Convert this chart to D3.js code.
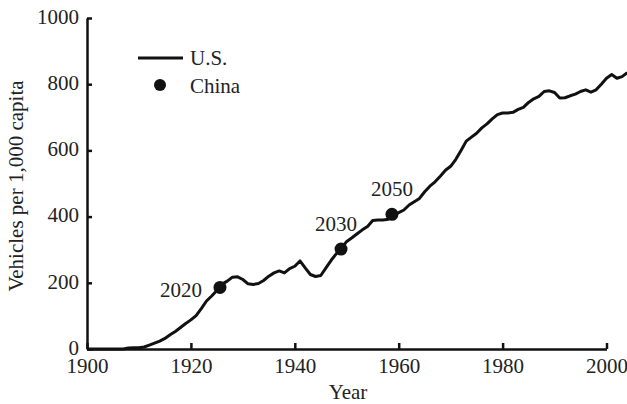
<!DOCTYPE html>
<html>
<head>
<meta charset="utf-8">
<script src="https://cdn.jsdelivr.net/npm/d3@7"></script>
<style>
  html, body { margin: 0; padding: 0; background: #fff; }
  svg { display: block; }
  text { font-family: "Liberation Serif", "Times New Roman", serif; fill: #222; }
</style>
</head>
<body>
<div id="chart"></div>
<script>
// ---- data ----
const usYears = d3.range(1900, 2005);
const usValues = [
  0, 0, 0, 0, 0, 0, 0, 0, 3, 4,            // 1900-1909
  4, 6, 12, 18, 24, 32, 43, 53, 65, 77,    // 1910-1919
  88, 101, 122, 145, 160, 177, 196, 205, 217, 218, // 1920-1929
  210, 197, 195, 198, 207, 220, 230, 236, 230, 243, // 1930-1939
  250, 266, 245, 225, 219, 222, 245, 268, 288, 305, // 1940-1949
  325, 336, 348, 360, 370, 388, 390, 390, 392, 406, // 1950-1959
  412, 420, 435, 445, 455, 475, 492, 505, 522, 540, // 1960-1969
  552, 573, 600, 628, 640, 652, 668, 680, 695, 708, // 1970-1979
  713, 713, 715, 724, 730, 745, 756, 763, 778, 780, // 1980-1989
  775, 758, 759, 765, 770, 778, 783, 776, 783, 800, // 1990-1999
  818, 829, 818, 823, 835                           // 2000-2004
];
const chinaX = [1925.6, 1948.9, 1958.7];
const chinaValues = [186, 302, 407];
const chinaLabels = ["2020", "2030", "2050"];
const xTicks = [1900, 1920, 1940, 1960, 1980, 2000];
const yTicks = [0, 200, 400, 600, 800, 1000];

// ---- layout ----
const W = 627, H = 404;
const svg = d3.select("#chart").append("svg").attr("width", W).attr("height", H);

const x = d3.scaleLinear().domain([1900, 2000]).range([87, 606.5]);
const y = d3.scaleLinear().domain([0, 1000]).range([349, 18]);

const FS = 21;

// US line
const line = d3.line().x((d, i) => x(usYears[i])).y(d => y(d)).curve(d3.curveLinear);
svg.append("path")
  .datum(usValues)
  .attr("d", line)
  .attr("fill", "none")
  .attr("stroke", "#111")
  .attr("stroke-width", 3)
  .attr("stroke-linejoin", "round");

// axes
const xAxis = d3.axisBottom(x).tickValues(xTicks).tickFormat(d3.format("d")).tickSizeInner(-6).tickSizeOuter(0).tickPadding(9);
const gx = svg.append("g").attr("transform", `translate(0,${y(0)})`).call(xAxis);
gx.select(".domain").attr("stroke", "#111").attr("stroke-width", 2.5);
gx.selectAll(".tick line").attr("stroke", "#111").attr("stroke-width", 2.5);
gx.selectAll(".tick text").attr("font-size", FS).attr("font-family", "Liberation Serif").attr("fill", "#222");

const yAxis = d3.axisLeft(y).tickValues(yTicks).tickFormat(d3.format("d")).tickSizeInner(-5).tickSizeOuter(0).tickPadding(8);
const gy = svg.append("g").attr("transform", `translate(${x(1900)},0)`).call(yAxis);
gy.select(".domain").attr("stroke", "#111").attr("stroke-width", 2.5);
gy.selectAll(".tick line").attr("stroke", "#111").attr("stroke-width", 2.5);
gy.selectAll(".tick text").attr("font-size", FS).attr("font-family", "Liberation Serif").attr("fill", "#222").attr("dy", "0.25em");

// China points
svg.selectAll("circle.china")
  .data(chinaValues)
  .enter().append("circle")
  .attr("class", "china")
  .attr("cx", (d, i) => x(chinaX[i]))
  .attr("cy", d => y(d))
  .attr("r", 6.5)
  .attr("fill", "#111");

// label placement: 0 -> left of point, 1 -> above-left, 2 -> above
svg.selectAll("text.clabel")
  .data(chinaValues)
  .enter().append("text")
  .attr("class", "clabel")
  .attr("x", (d, i) => i === 0 ? x(chinaX[i]) - 18 : (i === 1 ? x(chinaX[i]) + 16 : x(chinaX[i])))
  .attr("y", (d, i) => i === 0 ? y(d) + 9.5 : y(d) - 18)
  .attr("text-anchor", (d, i) => i === 2 ? "middle" : "end")
  .attr("font-size", FS)
  .text((d, i) => chinaLabels[i]);

// axis titles
svg.append("text")
  .attr("transform", `translate(23,186) rotate(-90)`)
  .attr("text-anchor", "middle")
  .attr("font-size", FS)
  .text("Vehicles per 1,000 capita");

svg.append("text")
  .attr("x", 348)
  .attr("y", 399)
  .attr("text-anchor", "middle")
  .attr("font-size", FS)
  .text("Year");

// legend
const lg = svg.append("g");
lg.append("line").attr("x1", 138).attr("x2", 183).attr("y1", 58).attr("y2", 58)
  .attr("stroke", "#111").attr("stroke-width", 3);
lg.append("text").attr("x", 190).attr("y", 65).attr("font-size", FS).text("U.S.");
lg.append("circle").attr("cx", 160).attr("cy", 85).attr("r", 6).attr("fill", "#111");
lg.append("text").attr("x", 190).attr("y", 92.5).attr("font-size", FS).text("China");
</script>
</body>
</html>
